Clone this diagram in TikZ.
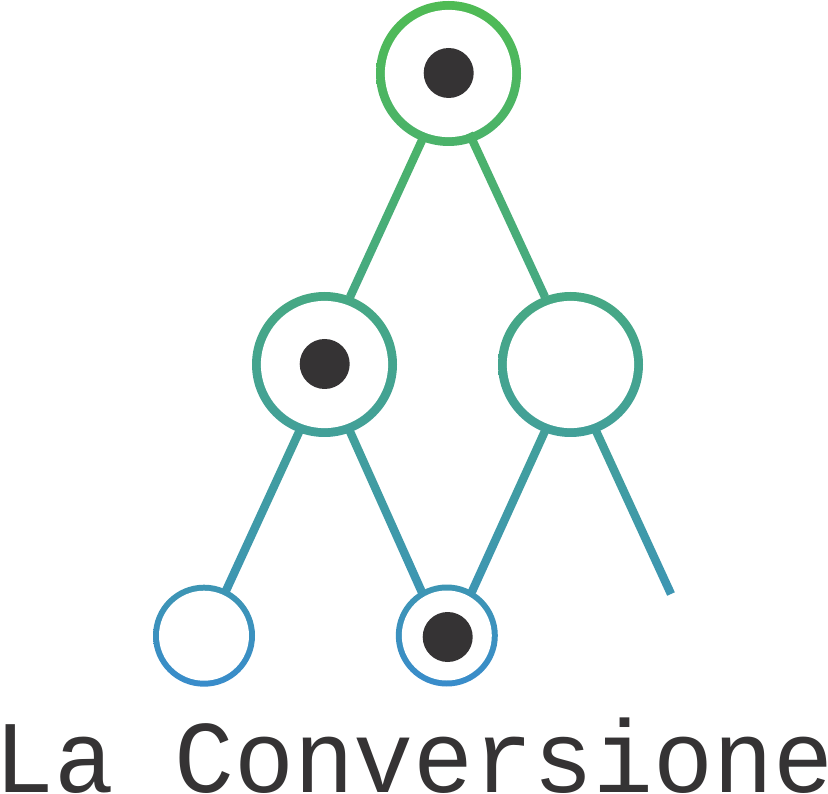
\documentclass[tikz,border=0pt]{standalone}
\usepackage{fontspec}
\newfontfamily\logofont{Liberation Mono}
\usetikzlibrary{calc}
\definecolor{gA}{RGB}{79,187,84}
\definecolor{gB}{RGB}{57,140,203}
\definecolor{ink}{RGB}{53,51,52}
\tikzset{
  x=1pt,y=-1pt,
  ring/.style={circle,inner sep=0pt,outer sep=0pt,minimum size=#1},
  hole/.style={path picture={\fill[white] (path picture bounding box.center) circle (#1);}},
  big/.style={ring=145pt,hole=63.6pt},
  small/.style={ring=102pt,hole=45pt},
  dot/.style={circle,fill=ink,inner sep=0pt,outer sep=0pt,minimum size=50pt},
  title/.style={inner sep=0pt,outer sep=0pt,anchor=base,text=ink,xscale=0.97,transform shape,
    font=\logofont\fontsize{103pt}{103pt}\selectfont}
}
% gradient stroke between two named points: the last two arguments are the percentages of gB at top and bottom
\newcommand{\conn}[4]{%
  \shade[top color=gB!#3!gA,bottom color=gB!#4!gA]
    ($(#1)!4.2pt!90:(#2)$) -- ($(#1)!4.2pt!-90:(#2)$) -- ($(#2)!4.2pt!90:(#1)$) -- ($(#2)!4.2pt!-90:(#1)$) -- cycle;}
\begin{document}
\begin{tikzpicture}
\useasboundingbox (0,0) rectangle (828,794);
\fill[white] (0,0) rectangle (828,794);
\node[big,top color=gB!0!gA,bottom color=gB!19!gA] (top) at (448.5,73.5) {};
\node[big,top color=gB!40!gA,bottom color=gB!58!gA] (ml) at (324.5,364.5) {};
\node[big,top color=gB!40!gA,bottom color=gB!58!gA] (mr) at (570.5,364.5) {};
\node[small,top color=gB!80!gA,bottom color=gB!100!gA] (bl) at (204,635.7) {};
\node[small,top color=gB!80!gA,bottom color=gB!100!gA] (bm) at (446.8,635.5) {};
\node[dot] (d1) at (448.7,73) {};
\node[dot] (d2) at (324.7,364) {};
\node[dot] (d3) at (447.7,637) {};
\coordinate (a1) at ($(top)+(-23.3,59.8)$);
\coordinate (a2) at ($(top)+(20.7,59.8)$);
\coordinate (a3) at ($(ml)+(25.5,-67.5)$);
\coordinate (a4) at ($(mr)+(-25.5,-67.5)$);
\coordinate (b1) at ($(ml)+(-22.5,61)$);
\coordinate (b2) at ($(ml)+(22.8,61)$);
\coordinate (b3) at ($(mr)+(-23,61)$);
\coordinate (b4) at ($(mr)+(23,61)$);
\coordinate (c1) at ($(bl)+(22,-45)$);
\coordinate (c2) at ($(bm)+(-25,-43.5)$);
\coordinate (c3) at ($(bm)+(25,-43.5)$);
\coordinate (free) at (671,594);
\conn{a1}{a3}{17}{40}
\conn{a2}{a4}{17}{40}
\conn{b1}{c1}{58}{80}
\conn{b2}{c2}{58}{80}
\conn{b3}{c3}{58}{80}
\conn{b4}{free}{58}{80}
\node[title] (label) at (414,792) {La Conversione};
\end{tikzpicture}
\end{document}
